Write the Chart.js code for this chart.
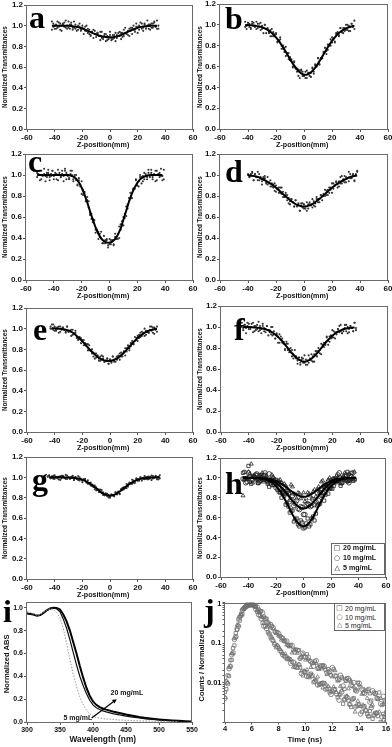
<!DOCTYPE html>
<html><head><meta charset="utf-8">
<script src="https://cdn.jsdelivr.net/npm/chart.js@4.4.0/dist/chart.umd.min.js"></script>
<style>
html,body{margin:0;padding:0;background:#fff;}
#wrap{position:relative;width:392px;height:747px;overflow:hidden;background:#fff;}
canvas{position:absolute;}
.t{position:absolute;white-space:nowrap;font-family:'Liberation Sans',Arial,sans-serif;font-weight:bold;color:#111;line-height:1;}
.g{opacity:0.99;}
.lt{position:absolute;font-family:'Liberation Serif','Times New Roman',serif;font-weight:bold;font-size:32px;line-height:32px;color:#000;}
.leg{position:absolute;border:1px solid #666;background:#fff;box-sizing:border-box;}
</style></head><body><div id="wrap"></div>
<script>
// ---------------- DATA ----------------
const zScan = [-45,-44,-43,-42,-41,-40,-39,-38,-37,-36,-35,-34,-33,-32,-31,-30,-29,-28,-27,-26,-25,-24,-23,-22,-21,-20,-19,-18,-17,-16,-15,-14,-13,-12,-11,-10,-9,-8,-7,-6,-5,-4,-3,-2,-1,0,1,2,3,4,5,6,7,8,9,10,11,12,13,14,15,16,17,18,19,20,21,22,23,24,25,26,27,28,29,30,31,32,33,34,35,36,37,38];
const zScanC = [-52,-51,-50,-49,-48,-47,-46,-45,-44,-43,-42,-41,-40,-39,-38,-37,-36,-35,-34,-33,-32,-31,-30,-29,-28,-27,-26,-25,-24,-23,-22,-21,-20,-19,-18,-17,-16,-15,-14,-13,-12,-11,-10,-9,-8,-7,-6,-5,-4,-3,-2,-1,0,1,2,3,4,5,6,7,8,9,10,11,12,13,14,15,16,17,18,19,20,21,22,23,24,25,26,27,28,29,30,31,32,33,34,35,36,37,38,39];
const zFit = [-52,-50,-48,-46,-44,-42,-40,-38,-36,-34,-32,-30,-28,-26,-24,-22,-20,-18,-16,-14,-12,-10,-8,-6,-4,-2,0,2,4,6,8,10,12,14,16,18,20,22,24,26,28,30,32,34,36,38,40];
const zOdd = [-43,-41,-39,-37,-35,-33,-31,-29,-27,-25,-23,-21,-19,-17,-15,-13,-11,-9,-7,-5,-3,-1,1,3,5,7,9,11,13,15,17,19,21,23,25,27,29,31,33,35,37];

// panel a-g: two scans each
const scanA = [null,null,null,0.96,1.02,1.00,0.97,1.04,0.99,1.02,0.95,1.01,1.03,0.98,1.00,1.04,0.97,1.01,0.98,1.04,0.97,0.95,1.00,0.99,0.95,1.00,0.97,0.95,1.00,0.93,0.96,0.91,0.94,0.88,0.95,0.92,0.93,0.90,0.86,0.94,0.87,0.90,0.92,0.86,0.89,0.94,0.88,0.87,0.91,0.85,0.91,0.93,0.90,0.93,0.89,0.96,0.93,0.92,0.95,0.90,0.98,0.98,0.96,0.94,1.02,0.99,0.96,0.99,1.02,0.95,1.01,0.99,1.05,0.97,1.01,0.98,1.02,1.04,0.99,0.97,1.00,null,null,null];
const scanA2 = [null,null,null,1.04,0.99,0.97,1.01,0.98,1.03,0.96,1.00,1.02,0.99,1.05,0.97,0.98,1.01,1.03,0.96,0.98,1.01,0.99,0.96,1.02,0.96,0.98,0.92,0.99,0.95,0.97,0.92,0.90,0.94,0.96,0.92,0.89,0.93,0.90,0.94,0.88,0.89,0.92,0.85,0.90,0.87,0.91,0.86,0.91,0.88,0.93,0.88,0.90,0.94,0.87,0.93,0.90,0.98,0.93,0.91,0.97,0.95,0.92,1.00,0.96,0.99,0.93,1.00,1.03,0.97,0.98,1.02,0.97,1.00,1.01,0.96,1.02,0.98,1.03,0.99,1.05,0.97,null,null,null];
const scanB = [null,null,null,0.98,0.96,1.02,1.01,0.97,1.03,0.99,0.98,1.03,0.97,1.01,0.95,0.99,0.92,1.00,0.96,0.97,0.93,0.89,0.96,0.89,0.91,0.91,0.83,0.85,0.88,0.80,0.77,0.78,0.70,0.73,0.73,0.66,0.67,0.60,0.65,0.59,0.55,0.57,0.49,0.56,0.55,0.51,0.49,0.56,0.54,0.51,0.54,0.59,0.53,0.61,0.60,0.68,0.62,0.68,0.68,0.74,0.78,0.75,0.76,0.81,0.86,0.83,0.87,0.84,0.92,0.91,0.89,0.97,0.93,0.97,0.94,1.00,0.95,0.99,0.94,1.01,0.99,0.96,null,null];
const scanB2 = [null,null,null,1.03,0.99,1.02,0.98,0.96,1.01,1.02,0.99,0.96,1.01,0.98,1.02,0.96,0.97,1.00,0.92,0.96,0.92,0.95,0.89,0.93,0.89,0.92,0.84,0.85,0.86,0.77,0.80,0.74,0.79,0.71,0.67,0.69,0.65,0.59,0.64,0.58,0.58,0.51,0.56,0.57,0.51,0.51,0.55,0.49,0.53,0.54,0.50,0.58,0.55,0.62,0.60,0.68,0.62,0.67,0.68,0.73,0.78,0.72,0.81,0.80,0.80,0.88,0.86,0.83,0.91,0.93,0.90,0.97,0.93,0.92,0.97,0.95,1.00,0.94,0.98,1.01,0.98,1.04,null,null];
const scanC = [0.98,1.01,1.04,0.96,1.00,1.06,0.99,0.98,1.02,0.95,1.01,1.04,0.99,1.02,0.96,1.05,1.00,0.98,1.01,0.94,1.04,1.02,0.99,0.96,1.04,1.00,0.96,0.98,1.00,0.90,0.95,0.89,0.94,0.81,0.83,0.75,0.76,0.75,0.64,0.58,0.58,0.57,0.48,0.48,0.39,0.44,0.40,0.35,0.42,0.35,0.38,0.33,0.39,0.34,0.38,0.33,0.41,0.41,0.39,0.51,0.48,0.56,0.52,0.63,0.70,0.68,0.75,0.83,0.78,0.86,0.87,0.96,0.90,0.89,0.98,0.98,0.94,1.02,0.99,0.98,1.05,0.98,1.02,0.96,1.01,0.94,1.04,1.00,1.02,0.99,0.95,1.05];
const scanC2 = [1.02,1.00,0.95,1.04,0.99,1.01,0.94,1.02,1.05,0.98,0.99,1.04,0.96,1.00,1.01,0.95,1.02,0.98,1.04,0.99,1.06,0.96,1.00,0.97,1.01,1.04,0.94,1.00,0.95,0.91,0.97,0.91,0.82,0.86,0.84,0.75,0.79,0.69,0.62,0.63,0.55,0.57,0.45,0.47,0.46,0.41,0.46,0.35,0.35,0.38,0.39,0.31,0.34,0.38,0.37,0.34,0.44,0.39,0.44,0.40,0.53,0.52,0.60,0.59,0.61,0.72,0.78,0.78,0.78,0.87,0.87,0.95,0.90,0.94,1.00,0.92,0.99,0.96,1.01,0.96,1.02,0.99,1.05,0.98,1.00,1.04,0.95,1.01,0.98,1.06,0.99,0.96];
const scanD = [null,null,null,null,null,1.01,0.98,0.99,1.02,0.95,1.01,0.98,1.03,0.95,0.98,0.94,0.98,0.99,0.93,0.91,0.93,0.95,0.89,0.91,0.85,0.90,0.87,0.83,0.88,0.82,0.84,0.79,0.83,0.76,0.78,0.72,0.77,0.74,0.70,0.76,0.71,0.73,0.66,0.71,0.73,0.68,0.70,0.74,0.68,0.72,0.71,0.77,0.71,0.70,0.77,0.77,0.74,0.81,0.80,0.80,0.86,0.81,0.86,0.83,0.88,0.83,0.92,0.90,0.93,0.91,0.89,0.98,0.92,0.96,0.99,0.93,0.97,1.03,0.97,0.97,1.01,0.95,1.00,1.03];
const scanD2 = [null,null,null,null,null,1.00,0.98,1.01,1.03,0.95,1.01,0.98,0.95,1.01,0.97,0.91,0.97,0.97,0.92,0.98,0.92,0.89,0.92,0.88,0.92,0.84,0.87,0.88,0.83,0.88,0.79,0.79,0.81,0.81,0.73,0.75,0.77,0.74,0.70,0.76,0.70,0.72,0.66,0.73,0.69,0.72,0.68,0.66,0.72,0.74,0.72,0.69,0.75,0.73,0.79,0.74,0.77,0.81,0.76,0.82,0.80,0.85,0.81,0.88,0.86,0.92,0.87,0.90,0.94,0.88,0.94,0.92,0.99,0.94,0.93,0.98,0.97,0.94,1.01,0.98,1.00,0.94,1.01,1.04];
const scanE = [null,null,1.00,1.04,0.99,1.02,0.98,1.01,0.96,1.02,1.00,1.01,0.99,0.96,1.02,0.97,0.98,0.99,0.94,0.95,0.98,0.92,0.90,0.92,0.86,0.89,0.89,0.84,0.85,0.79,0.84,0.79,0.76,0.77,0.71,0.76,0.74,0.71,0.69,0.74,0.71,0.68,0.69,0.71,0.66,0.70,0.68,0.73,0.68,0.71,0.70,0.74,0.76,0.73,0.73,0.77,0.81,0.78,0.82,0.79,0.86,0.86,0.85,0.92,0.89,0.93,0.91,0.96,0.93,0.96,0.93,0.98,0.97,0.96,1.02,0.98,1.01,0.95,1.00,1.02,null,null,null,null];
const scanE2 = [null,null,1.02,1.00,1.04,0.98,0.99,1.01,1.02,0.97,0.99,1.01,0.99,0.97,1.02,0.97,0.98,0.93,0.99,0.95,0.96,0.91,0.89,0.91,0.91,0.88,0.84,0.86,0.83,0.85,0.79,0.79,0.80,0.73,0.76,0.72,0.74,0.69,0.73,0.70,0.73,0.68,0.69,0.71,0.66,0.70,0.67,0.73,0.69,0.68,0.73,0.72,0.70,0.77,0.75,0.78,0.74,0.81,0.84,0.81,0.83,0.88,0.85,0.88,0.91,0.88,0.94,0.92,0.97,0.95,1.00,0.94,0.97,0.96,0.99,1.02,0.96,1.01,0.99,0.97,null,null,null,null];
const scanF = [1.04,0.99,1.02,0.94,1.01,1.03,0.98,1.00,1.04,0.96,1.01,0.98,1.05,0.97,0.94,1.01,0.99,0.95,1.01,0.97,0.95,1.00,0.92,0.96,0.89,0.93,0.85,0.93,0.88,0.89,0.84,0.79,0.86,0.78,0.79,0.80,0.72,0.74,0.78,0.70,0.68,0.71,0.64,0.69,0.70,0.66,0.69,0.64,0.73,0.69,0.68,0.72,0.67,0.77,0.77,0.76,0.75,0.84,0.83,0.81,0.85,0.90,0.83,0.91,0.89,0.97,0.90,0.95,0.93,0.98,1.01,0.96,0.94,0.98,1.02,0.96,1.00,0.95,1.01,0.99,0.96,1.04,0.99,null];
const scanF2 = [1.00,0.97,1.02,0.99,1.04,0.98,1.00,1.03,0.95,1.01,0.97,1.02,0.96,1.01,0.98,1.03,0.96,0.98,1.01,0.92,0.97,0.93,1.00,0.93,0.89,0.94,0.91,0.85,0.91,0.85,0.86,0.78,0.84,0.84,0.76,0.76,0.78,0.70,0.72,0.72,0.65,0.71,0.66,0.71,0.66,0.73,0.64,0.68,0.66,0.70,0.74,0.67,0.74,0.73,0.72,0.80,0.78,0.74,0.83,0.85,0.83,0.91,0.87,0.86,0.92,0.90,0.96,0.89,0.95,0.98,0.95,1.02,0.94,0.96,0.99,1.02,0.94,0.98,1.01,0.99,0.96,1.04,0.97,null];
const scanG = [1.005,1.015,0.995,1.01,0.985,1.02,1.0,0.99,1.005,0.975,1.015,1.01,0.995,0.984,1.018,1.003,0.987,0.997,1.01,0.974,1.002,0.985,1.013,0.97,0.986,0.967,0.981,0.985,0.953,0.936,0.943,0.949,0.914,0.919,0.883,0.902,0.881,0.855,0.88,0.845,0.852,0.824,0.844,0.814,0.826,0.80,0.831,0.824,0.814,0.854,0.837,0.86,0.835,0.875,0.896,0.882,0.903,0.934,0.909,0.939,0.938,0.976,0.948,0.945,0.981,0.982,0.966,1.0,0.988,0.985,1.012,0.984,1.005,0.982,1.002,0.973,1.013,0.999,1.01,0.995,0.98,1.02,null,null];
const scanG2 = [1.01,1.02,0.99,0.995,1.015,0.985,1.0,1.005,0.98,1.01,0.99,1.015,0.995,1.024,0.983,0.998,0.987,1.002,1.015,0.974,1.002,0.985,0.973,1.0,0.981,0.952,0.976,0.975,0.948,0.971,0.938,0.919,0.929,0.904,0.918,0.872,0.881,0.88,0.855,0.875,0.827,0.824,0.834,0.839,0.801,0.815,0.831,0.824,0.814,0.854,0.832,0.855,0.835,0.885,0.876,0.902,0.893,0.894,0.929,0.949,0.943,0.936,0.968,0.96,0.991,0.967,0.981,1.0,0.968,0.995,0.982,1.004,0.98,1.007,0.992,1.018,0.988,0.999,1.015,0.98,1.005,0.99,null,null];

const fitA = [null,null,null,null,null,1.0,1.0,1.0,1.0,1.0,0.999,0.998,0.996,0.993,0.988,0.981,0.972,0.962,0.950,0.938,0.926,0.915,0.905,0.897,0.892,0.889,0.888,0.889,0.893,0.900,0.910,0.922,0.935,0.948,0.960,0.970,0.979,0.986,0.991,0.995,0.997,0.999,1.0,1.0,null,null,null];
const fitB = [null,null,null,null,null,0.999,0.998,0.996,0.994,0.990,0.985,0.977,0.966,0.952,0.933,0.910,0.880,0.846,0.807,0.764,0.718,0.672,0.628,0.589,0.556,0.533,0.521,0.521,0.533,0.556,0.589,0.628,0.672,0.718,0.764,0.807,0.846,0.880,0.910,0.933,0.952,0.966,0.977,0.985,0.990,null,null];
const fitC = [1.0,1.0,1.0,1.0,1.0,1.0,1.0,1.0,1.0,1.0,1.0,0.999,0.995,0.985,0.965,0.93,0.88,0.815,0.74,0.655,0.575,0.50,0.44,0.395,0.37,0.357,0.355,0.365,0.39,0.43,0.49,0.575,0.66,0.745,0.82,0.88,0.925,0.96,0.978,0.99,0.997,1.0,1.0,1.0,1.0,1.0,null];
const fitD = [null,null,null,null,null,null,0.998,0.995,0.99,0.985,0.978,0.962,0.95,0.935,0.919,0.90,0.879,0.856,0.832,0.808,0.784,0.761,0.74,0.723,0.711,0.703,0.70,0.703,0.711,0.723,0.74,0.761,0.784,0.808,0.832,0.856,0.879,0.90,0.919,0.935,0.95,0.962,0.978,0.985,0.99,0.995,null];
const fitE = [null,null,null,null,null,1.005,1.003,1.0,0.998,0.995,0.99,0.982,0.97,0.953,0.93,0.905,0.877,0.848,0.818,0.789,0.762,0.738,0.718,0.703,0.693,0.688,0.688,0.694,0.705,0.721,0.742,0.767,0.795,0.825,0.855,0.884,0.91,0.933,0.953,0.968,0.98,0.988,0.994,0.997,null,null,null];
const fitF = [null,null,null,null,1.0,0.999,0.999,0.998,0.996,0.994,0.99,0.985,0.978,0.968,0.955,0.938,0.917,0.892,0.864,0.832,0.799,0.766,0.736,0.709,0.688,0.675,0.67,0.675,0.688,0.709,0.736,0.766,0.799,0.832,0.864,0.892,0.917,0.938,0.955,0.968,0.978,0.985,0.99,0.994,0.996,null,null];
const fitG = [null,null,null,null,1.0,1.0,1.0,1.0,1.0,1.0,0.999,0.998,0.997,0.994,0.99,0.985,0.977,0.965,0.951,0.934,0.914,0.892,0.87,0.85,0.834,0.824,0.82,0.824,0.834,0.85,0.87,0.892,0.914,0.934,0.951,0.965,0.977,0.985,0.99,0.994,0.997,0.998,0.999,1.0,1.0,null,null];

// panel h (20, 10, 5 mg/mL), points on zFit and zOdd
const hSq = [null,null,null,null,1.05,0.99,1.12,0.94,1.01,1.03,0.97,0.99,1.03,0.94,0.97,0.93,0.98,0.86,0.80,0.82,0.75,0.65,0.67,0.58,0.53,0.57,0.49,0.54,0.51,0.59,0.57,0.72,0.74,0.82,0.83,0.84,0.97,0.92,0.97,1.01,0.95,0.99,1.06,0.98,0.97,null,null];
const hCi = [null,null,null,null,0.99,0.95,1.05,0.98,1.01,1.04,0.96,0.99,1.05,0.97,0.95,0.99,0.90,0.94,0.94,0.86,0.86,0.76,0.82,0.74,0.69,0.71,0.63,0.73,0.73,0.72,0.73,0.85,0.85,0.85,0.90,0.96,0.90,0.99,0.96,1.05,0.95,1.01,0.97,1.02,1.05,null,null];
const hTr = [null,null,null,null,0.82,0.99,1.06,1.14,1.01,0.98,1.02,1.05,0.98,0.95,0.99,1.01,0.94,0.97,0.89,0.94,0.90,0.84,0.91,0.83,0.85,0.79,0.85,0.79,0.84,0.79,0.88,0.88,0.86,0.97,0.93,0.98,0.91,0.99,1.02,0.97,0.99,1.05,0.96,1.01,0.99,null,null];
const hSq2 = [1.06,0.99,0.96,1.02,1.00,0.95,1.03,0.98,0.99,0.91,0.98,0.98,0.88,0.85,0.86,0.73,0.71,0.67,0.56,0.59,0.51,0.55,0.50,0.59,0.53,0.61,0.64,0.73,0.82,0.77,0.89,0.89,0.89,0.99,0.97,0.92,1.00,1.02,0.97,1.05,0.99];
const hCi2 = [0.99,0.96,1.01,0.98,1.03,0.95,1.00,1.02,0.98,1.04,0.93,0.93,0.95,0.95,0.84,0.84,0.84,0.78,0.72,0.77,0.68,0.70,0.63,0.74,0.71,0.78,0.76,0.77,0.87,0.92,0.91,0.90,0.98,0.96,1.03,0.96,0.99,1.03,0.95,1.01,0.98];
const hTr2 = [0.98,1.00,1.04,0.95,1.01,0.98,1.02,0.96,1.02,0.98,1.03,0.95,0.96,0.98,0.88,0.92,0.87,0.93,0.84,0.79,0.84,0.81,0.76,0.85,0.82,0.86,0.81,0.91,0.96,0.91,0.93,1.00,0.94,0.98,1.00,0.94,1.02,0.97,1.04,0.99,1.06];
const fitH20 = [null,null,null,null,1.0,1.0,0.999,0.999,0.998,0.997,0.995,0.991,0.985,0.976,0.962,0.943,0.917,0.884,0.843,0.795,0.742,0.686,0.631,0.582,0.544,0.519,0.51,0.519,0.544,0.582,0.631,0.686,0.742,0.795,0.843,0.884,0.917,0.943,0.962,0.976,0.985,0.991,0.995,0.997,0.998,0.999,null];
const fitH10 = [null,null,null,null,1.0,1.0,1.0,1.0,0.999,0.998,0.997,0.994,0.990,0.985,0.976,0.964,0.948,0.927,0.901,0.870,0.837,0.801,0.767,0.736,0.711,0.696,0.69,0.696,0.711,0.736,0.767,0.801,0.837,0.870,0.901,0.927,0.948,0.964,0.976,0.985,0.990,0.994,0.997,0.998,0.999,1.0,null];
const fitH5 = [null,null,null,null,1.0,1.0,1.0,1.0,0.999,0.999,0.998,0.997,0.994,0.991,0.985,0.978,0.968,0.955,0.939,0.921,0.900,0.878,0.857,0.838,0.823,0.813,0.81,0.813,0.823,0.838,0.857,0.878,0.900,0.921,0.939,0.955,0.968,0.978,0.985,0.991,0.994,0.997,0.998,0.999,0.999,1.0,null];

// panel i
const wavelength = [300,305,310,315,320,325,330,335,340,345,350,355,360,365,370,375,380,385,390,395,400,405,410,415,420,430,440,450,460,470,480,490,500,510,520,530,540,550];
const abs20 = [0.95,0.945,0.94,0.93,0.935,0.955,0.978,0.993,1.0,0.997,0.985,0.94,0.88,0.80,0.70,0.60,0.49,0.39,0.30,0.23,0.18,0.15,0.13,0.118,0.108,0.092,0.078,0.065,0.054,0.044,0.036,0.029,0.023,0.018,0.014,0.01,0.007,0.005];
const abs10 = [0.95,0.945,0.94,0.93,0.935,0.955,0.977,0.992,0.998,0.99,0.965,0.9,0.82,0.72,0.61,0.50,0.40,0.32,0.25,0.19,0.15,0.125,0.11,0.097,0.088,0.074,0.062,0.052,0.043,0.035,0.028,0.022,0.017,0.013,0.009,0.006,0.004,0.003];
const abs5 = [0.97,0.96,0.945,0.935,0.94,0.96,0.98,0.99,0.985,0.96,0.91,0.82,0.69,0.55,0.42,0.31,0.22,0.155,0.105,0.072,0.05,0.04,0.034,0.03,0.027,0.022,0.018,0.015,0.012,0.01,0.008,0.007,0.006,0.005,0.004,0.003,null,null];

// panel j
const timeNs = [4.0,4.2,4.4,4.6,4.8,5.0,5.2,5.4,5.6,5.8,6.0,6.2,6.4,6.6,6.8,7.0,7.2,7.4,7.6,7.8,8.0,8.2,8.4,8.6,8.8,9.0,9.2,9.4,9.6,9.8,10.0,10.2,10.4,10.6,10.8,11.0,11.2,11.4,11.6,11.8,12.0,12.2,12.4,12.6,12.8,13.0,13.2,13.4,13.6,13.8,14.0,14.2,14.4,14.6,14.8,15.0,15.2,15.4,15.6,15.8,16.0];
const timeNs2 = [4.1,4.3,4.5,4.7,4.9,5.1,5.3,5.5,5.7,5.9,6.1,6.3,6.5,6.7,6.9,7.1,7.3,7.5,7.7,7.9,8.1,8.3,8.5,8.7,8.9,9.1,9.3,9.5,9.7,9.9,10.1,10.3,10.5,10.7,10.9,11.1,11.3,11.5,11.7,11.9,12.1,12.3,12.5,12.7,12.9,13.1,13.3,13.5,13.7,13.9,14.1,14.3,14.5,14.7,14.9,15.1,15.3,15.5,15.7,15.9];
const pl20 = [0.0058,0.0153,0.037,0.075,0.18,0.40,0.56,0.74,0.96,0.91,0.99,0.87,0.63,0.50,0.33,0.27,0.19,0.139,0.114,0.079,0.074,0.06,0.048,0.0395,0.039,0.0336,0.0252,0.024,0.0242,0.0152,0.0187,0.0143,0.0169,0.0102,0.0113,0.0087,0.0097,0.0096,0.0068,0.0056,0.006,0.0068,0.0042,0.005,0.0029,0.0044,0.0035,0.0024,0.004,0.0025,0.0028,0.0018,0.0025,0.0016,0.0019,0.0012,0.0017,0.0014,0.001,0.0016,0.001];
const pl10 = [0.004,0.0094,0.026,0.057,0.146,0.27,0.51,0.75,0.85,0.98,1.0,0.87,0.82,0.65,0.59,0.42,0.33,0.30,0.245,0.188,0.175,0.14,0.118,0.113,0.086,0.087,0.06,0.065,0.041,0.056,0.044,0.044,0.034,0.026,0.036,0.024,0.026,0.026,0.018,0.019,0.024,0.0147,0.0122,0.0154,0.0082,0.0119,0.0126,0.0086,0.01,0.0061,0.0096,0.0068,0.0053,0.0063,0.0032,0.0062,0.0053,0.0039,0.0029,0.0045,0.0033];
const pl5 = [0.0042,0.0098,0.0264,0.0545,0.143,0.288,0.52,0.77,0.86,0.92,0.96,0.887,0.69,0.606,0.447,0.412,0.324,0.245,0.233,0.176,0.154,0.121,0.114,0.0907,0.0826,0.0569,0.0693,0.0558,0.0421,0.0529,0.0376,0.0396,0.0243,0.0312,0.031,0.0219,0.0225,0.0248,0.0161,0.018,0.0141,0.0202,0.011,0.0081,0.0125,0.0107,0.007,0.0105,0.0077,0.0066,0.0087,0.0051,0.0066,0.004,0.0052,0.0027,0.0051,0.0038,0.004,0.0028,0.0019];
const pl20b = [0.0068,0.0146,0.0377,0.088,0.22,0.374,0.55,0.83,0.96,0.935,1.0,0.86,0.715,0.65,0.47,0.416,0.30,0.27,0.198,0.193,0.152,0.135,0.11,0.089,0.091,0.0666,0.0693,0.0667,0.0442,0.046,0.0525,0.0361,0.031,0.0347,0.0228,0.0273,0.0276,0.0209,0.022,0.0153,0.0218,0.015,0.0117,0.0136,0.0069,0.0131,0.0114,0.0083,0.0063,0.01,0.0076,0.0055,0.006,0.0069,0.0035,0.0056,0.004,0.0056,0.0027,0.0035];
const pl10b = [0.0103,0.0225,0.051,0.125,0.23,0.46,0.70,0.82,0.99,0.92,0.96,0.72,0.53,0.42,0.27,0.233,0.173,0.124,0.093,0.084,0.065,0.051,0.045,0.041,0.031,0.033,0.0247,0.0281,0.017,0.0189,0.0144,0.0156,0.0152,0.0108,0.0087,0.0092,0.0097,0.0068,0.0072,0.005,0.0066,0.0052,0.0036,0.0058,0.0037,0.0042,0.0028,0.0038,0.0024,0.0027,0.0016,0.0024,0.00195,0.0014,0.0023,0.0015,0.0017,0.0008,0.00135,0.0014];
const pl5b = [0.0112,0.0248,0.0548,0.132,0.29,0.475,0.74,0.85,1.0,0.98,0.92,0.855,0.593,0.469,0.317,0.257,0.175,0.1425,0.1,0.0892,0.0704,0.0548,0.0535,0.042,0.0389,0.0248,0.03,0.0285,0.0198,0.0198,0.0211,0.0133,0.0147,0.0119,0.014,0.0091,0.0074,0.0092,0.008,0.0059,0.0078,0.0057,0.0049,0.0064,0.0037,0.0046,0.0028,0.0037,0.0018,0.0034,0.0025,0.0027,0.002,0.0014,0.0025,0.0015,0.0017,0.0018,0.001,0.0013];

const concLabels = ['20 mg/mL','10 mg/mL','5 mg/mL'];
const zTitle = 'Z-position(mm)';
const transTitle = 'Normalized Transmittances';
const arrowFrom = [398, 0.035];
const arrowTo = [436, 0.2];

// ---------------- RENDER ----------------
const FONT = "'Liberation Sans', Arial, sans-serif";
const wrap = document.getElementById('wrap');
const pts = (xs, ys) => xs.map((x, i) => ({x, y: ys[i]})).filter(p => p.x != null && p.y != null);

function txt(s, cx, cy, size, opts) {
  opts = opts || {};
  const d = document.createElement('div');
  d.className = 't g';
  d.textContent = s;
  d.style.fontSize = size + 'px';
  if (opts.weight) d.style.fontWeight = opts.weight;
  if (opts.color) d.style.color = opts.color;
  if (opts.family) d.style.fontFamily = opts.family;
  wrap.appendChild(d);
  const w = d.offsetWidth, h = d.offsetHeight;
  d.style.left = (opts.left != null ? opts.left : cx - w / 2) + 'px';
  d.style.top = (cy - h / 2) + 'px';
  if (opts.rot) d.style.transform = 'rotate(-90deg)';
  return d;
}
function letter(s, x, baseline) {
  const d = document.createElement('div');
  d.className = 'lt'; d.textContent = s;
  d.style.left = x + 'px'; d.style.top = (baseline - 27) + 'px';
  wrap.appendChild(d);
}
const boxPlugin = {
  id: 'box',
  afterDatasetsDraw(chart) {
    const a = chart.chartArea, c = chart.ctx;
    c.save(); c.strokeStyle = '#6a6a6a'; c.lineWidth = 1;
    c.strokeRect(Math.round(a.left) - 0.5, Math.round(a.top) + 0.5, Math.round(a.right - a.left), Math.round(a.bottom - a.top));
    c.restore();
  }
};
function axisCommon(size, tl) {
  return {
    grid: {display: true, drawOnChartArea: false, drawTicks: true, tickLength: tl || 3, color: '#555', lineWidth: 1},
    border: {display: false},
    ticks: {font: {family: FONT, size: size, weight: 'bold'}, color: '#111', padding: 1, maxRotation: 0, autoSkip: false}
  };
}
function makeChart(cv, pl, datasets, scales, extra) {
  const can = document.createElement('canvas');
  can.width = cv[2]; can.height = cv[3];
  can.style.left = cv[0] + 'px'; can.style.top = cv[1] + 'px';
  can.style.width = cv[2] + 'px'; can.style.height = cv[3] + 'px';
  wrap.appendChild(can);
  const xH = cv[1] + cv[3] - pl[3], yW = pl[0] - cv[0];
  scales.x.afterFit = s => { s.height = xH; s.paddingLeft = 0; s.paddingRight = 0; s.paddingTop = 0; s.paddingBottom = 0; };
  scales.y.afterFit = s => { s.width = yW; s.paddingTop = 0; s.paddingBottom = 0; s.paddingLeft = 0; s.paddingRight = 0; };
  return new Chart(can, {
    type: 'scatter',
    data: {datasets},
    options: {
      responsive: false, animation: false, devicePixelRatio: 1, events: [],
      layout: {padding: {left: 0, top: pl[2] - cv[1], right: cv[0] + cv[2] - pl[1], bottom: 0}},
      plugins: {legend: {display: false}, tooltip: {enabled: false}},
      scales
    },
    plugins: [boxPlugin].concat(extra || [])
  });
}
function zScales() {
  const x = axisCommon(8), y = axisCommon(8);
  x.type = 'linear'; x.min = -60; x.max = 60; x.ticks.stepSize = 20;
  y.type = 'linear'; y.min = 0; y.max = 1.2; y.ticks.stepSize = 0.2; y.ticks.callback = v => (+v).toFixed(1);
  return {x, y};
}
const dotSet = (xs, ys) => ({data: pts(xs, ys), pointRadius: 1.05, pointBackgroundColor: '#333', pointBorderWidth: 0, order: 2});
const fitSet = ys => ({data: pts(zFit, ys), showLine: true, pointRadius: 0, borderColor: '#000', borderWidth: 2, order: 0});

// layout: canvas [x,y,w,h], plot [left,right,top,bottom], letter [x, baseline]
const L = {
  a: {cv: [0, 0, 205, 150], pl: [27, 193, 5, 129], lt: [29, 28]},
  b: {cv: [196, 0, 196, 150], pl: [220, 388, 4, 129], lt: [225, 29]},
  c: {cv: [0, 150, 205, 152], pl: [26, 193, 154, 280], lt: [28, 172]},
  d: {cv: [196, 150, 196, 152], pl: [220, 388, 153, 280], lt: [225, 182]},
  e: {cv: [0, 302, 205, 150], pl: [27, 193, 308, 432], lt: [33, 340]},
  f: {cv: [196, 302, 196, 150], pl: [221, 388, 305, 432], lt: [234, 340]},
  g: {cv: [0, 452, 205, 146], pl: [27, 193, 457, 579], lt: [32, 490]},
  h: {cv: [196, 452, 196, 146], pl: [221, 386, 458, 577], lt: [225, 494]},
  i: {cv: [0, 598, 205, 149], pl: [27, 192, 602, 722], lt: [3, 622]},
  j: {cv: [196, 598, 196, 149], pl: [225, 386, 601, 722], lt: [204, 621]}
};

function zPanel(k, sets) {
  const o = L[k];
  makeChart(o.cv, o.pl, sets, zScales());
  const left = o.cv[0] < 100;
  txt(zTitle, left ? 103 : 302, o.pl[3] + 15, 7.2);
  txt(transTitle, left ? 5 : 200, (o.pl[2] + o.pl[3]) / 2, 6.3, {rot: true});
  letter(k, o.lt[0], o.lt[1]);
}
zPanel('a', [fitSet(fitA), dotSet(zScan, scanA), dotSet(zScan, scanA2)]);
zPanel('b', [fitSet(fitB), dotSet(zScan, scanB), dotSet(zScan, scanB2)]);
zPanel('c', [fitSet(fitC), dotSet(zScanC, scanC), dotSet(zScanC, scanC2)]);
zPanel('d', [fitSet(fitD), dotSet(zScan, scanD), dotSet(zScan, scanD2)]);
zPanel('e', [fitSet(fitE), dotSet(zScan, scanE), dotSet(zScan, scanE2)]);
zPanel('f', [fitSet(fitF), dotSet(zScan, scanF), dotSet(zScan, scanF2)]);
zPanel('g', [fitSet(fitG), dotSet(zScan, scanG), dotSet(zScan, scanG2)]);

const mark = (xs, ys, style, col) => ({data: pts(xs, ys), pointStyle: style, pointRadius: 2.3, pointBorderWidth: 0.8, pointBorderColor: col, pointBackgroundColor: 'rgba(0,0,0,0)', order: 2});
zPanel('h', [fitSet(fitH20), fitSet(fitH10), fitSet(fitH5),
  mark(zFit, hSq, 'rect', '#222'), mark(zFit, hCi, 'circle', '#222'), mark(zFit, hTr, 'triangle', '#222'),
  mark(zOdd, hSq2, 'rect', '#222'), mark(zOdd, hCi2, 'circle', '#222'), mark(zOdd, hTr2, 'triangle', '#222')]);

// legend h
(function () {
  const d = document.createElement('div'); d.className = 'leg';
  d.style.left = '331px'; d.style.top = '543px'; d.style.width = '54px'; d.style.height = '32px';
  wrap.appendChild(d);
  const syms = ['\u25A1', '\u25CB', '\u25B3'];
  [548.5, 558.5, 568.5].forEach((y, i) => {
    txt(syms[i], 337, y, 7, {weight: 'normal', family: "'DejaVu Sans', sans-serif"});
    txt(concLabels[i], 0, y, 7.1, {left: 343});
  });
})();

// panel i
(function () {
  const o = L.i;
  const x = axisCommon(7), y = axisCommon(7);
  x.type = 'linear'; x.min = 300; x.max = 550; x.ticks.stepSize = 50;
  y.type = 'linear'; y.min = 0; y.max = 1.05; y.ticks.stepSize = 0.2; y.ticks.includeBounds = false;
  y.ticks.callback = v => (Math.abs(v * 5 - Math.round(v * 5)) < 1e-6 ? (+v).toFixed(1) : '');
  const line = (ys, col, w, dash) => ({data: pts(wavelength, ys), showLine: true, pointRadius: 0, borderColor: col, borderWidth: w, borderDash: dash || []});
  const arrow = {
    id: 'arrow',
    afterDatasetsDraw(chart) {
      const sx = chart.scales.x, sy = chart.scales.y, c = chart.ctx;
      const x0 = sx.getPixelForValue(arrowFrom[0]), y0 = sy.getPixelForValue(arrowFrom[1]);
      const x1 = sx.getPixelForValue(arrowTo[0]), y1 = sy.getPixelForValue(arrowTo[1]);
      const ang = Math.atan2(y1 - y0, x1 - x0);
      c.save(); c.strokeStyle = '#000'; c.fillStyle = '#000'; c.lineWidth = 1.2;
      c.beginPath(); c.moveTo(x0, y0); c.lineTo(x1 - 3 * Math.cos(ang), y1 - 3 * Math.sin(ang)); c.stroke();
      c.beginPath(); c.moveTo(x1, y1);
      c.lineTo(x1 - 5 * Math.cos(ang - 0.45), y1 - 5 * Math.sin(ang - 0.45));
      c.lineTo(x1 - 5 * Math.cos(ang + 0.45), y1 - 5 * Math.sin(ang + 0.45));
      c.closePath(); c.fill(); c.restore();
    }
  };
  makeChart(o.cv, o.pl, [line(abs5, '#9a9a9a', 1, [1.5, 1.5]), line(abs10, '#111', 1.2), line(abs20, '#000', 2)], {x, y}, [arrow]);
  txt('Wavelength (nm)', 103, 739, 8.3);
  txt('Normalized ABS', 6, 664, 7.6, {rot: true});
  txt(concLabels[0], 127, 692, 7);
  txt(concLabels[2], 78, 717.5, 7);
  letter('i', o.lt[0], o.lt[1]);
})();

// panel j
(function () {
  const o = L.j;
  const x = axisCommon(7.5, 2.5), y = axisCommon(7.5, 2.5);
  x.type = 'linear'; x.min = 4; x.max = 16; x.ticks.stepSize = 2; x.ticks.padding = 0;
  y.type = 'logarithmic'; y.min = 0.001; y.max = 1.06;
  y.ticks.callback = v => {
    const l = Math.log10(v), r = Math.round(l);
    if (Math.abs(l - r) < 1e-6 && r <= 0 && r >= -2) return r === 0 ? '1' : (r === -1 ? '0.1' : '0.01');
    return '';
  };
  const m = (xs, ys, style) => ({data: pts(xs, ys), pointStyle: style, pointRadius: 2.3, pointBorderWidth: 0.8, pointBorderColor: '#707070', pointBackgroundColor: 'rgba(0,0,0,0)'});
  makeChart(o.cv, o.pl, [m(timeNs, pl20, 'rect'), m(timeNs, pl10, 'circle'), m(timeNs, pl5, 'triangle'),
    m(timeNs2, pl20b, 'rect'), m(timeNs2, pl10b, 'circle'), m(timeNs2, pl5b, 'triangle')], {x, y});
  txt('Time (ns)', 305, 740, 7.8);
  txt('Counts / Normalized', 201, 665, 7.4, {rot: true});
  letter('j', o.lt[0], o.lt[1]);
  const d = document.createElement('div'); d.className = 'leg';
  d.style.left = '334px'; d.style.top = '603px'; d.style.width = '51px'; d.style.height = '28px';
  wrap.appendChild(d);
  const syms = ['\u25A1', '\u25CB', '\u25B3'];
  [608.5, 617, 625.5].forEach((yy, i) => {
    txt(syms[i], 339.5, yy, 7, {weight: 'normal', color: '#555', family: "'DejaVu Sans', sans-serif"});
    txt(concLabels[i], 0, yy, 7, {left: 345, weight: 'normal', color: '#222'});
  });
})();
</script>
</body></html>
